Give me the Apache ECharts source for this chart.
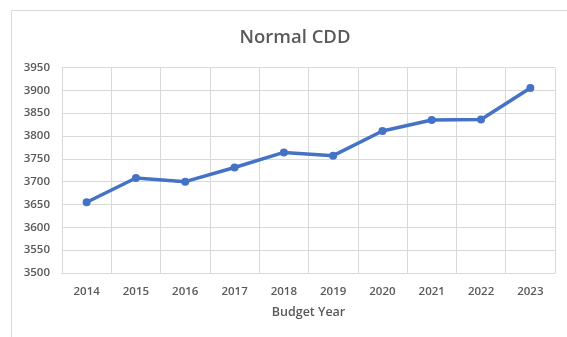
<!DOCTYPE html>
<html><head><meta charset="utf-8">
<script src="https://cdn.jsdelivr.net/npm/echarts@6/dist/echarts.min.js"></script>
<style>html,body{margin:0;padding:0;background:#fff}#c{width:567px;height:337px}</style>
</head><body><div id="c"></div>
<script>
const categories = ['2014','2015','2016','2017','2018','2019','2020','2021','2022','2023'];
const normalCDD = [3655, 3708, 3700, 3731, 3764, 3757, 3811, 3835, 3836, 3905];
const yTicks = [3500, 3550, 3600, 3650, 3700, 3750, 3800, 3850, 3900, 3950];
const chartTitle = 'Normal CDD';
const xAxisTitle = 'Budget Year';

const chart = echarts.init(document.getElementById('c'), null, {renderer:'canvas'});
const font = '"Open Sans", "Liberation Sans", sans-serif';
chart.setOption({
  animation:false,
  graphic:[{type:'rect', shape:{x:11.5,y:10.5,width:600,height:400}, style:{fill:'none', stroke:'#d9d9d9', lineWidth:1}, z:-1}],
  title:{text:chartTitle, left:290, top:23, textAlign:'center',
    textStyle:{fontFamily:font, fontSize:18.5, fontWeight:600, color:'#595959'}},
  grid:{left:62, right:12, top:67.5, bottom:64, containLabel:false},
  xAxis:{type:'category', data:categories, boundaryGap:true,
    name:xAxisTitle, nameLocation:'middle', nameGap:33,
    nameTextStyle:{fontFamily:font, fontSize:12.5, fontWeight:600, color:'#595959'},
    axisLine:{show:true, lineStyle:{color:'#d9d9d9'}}, axisTick:{show:false},
    axisLabel:{fontFamily:font, fontSize:11.5, fontWeight:600, color:'#595959', margin:13},
    splitLine:{show:true, lineStyle:{color:'#d9d9d9'}}},
  yAxis:{type:'value', min:yTicks[0], max:yTicks[yTicks.length-1], interval:50,
    axisLine:{show:false}, axisTick:{show:false},
    axisLabel:{fontFamily:font, fontSize:11.5, fontWeight:600, color:'#595959', margin:12,
      formatter:v=>String(v)},
    splitLine:{show:true, lineStyle:{color:'#d9d9d9'}}},
  series:[{type:'line', data:normalCDD, symbol:'circle', symbolSize:8,
    lineStyle:{color:'#4472c4', width:3.5}, itemStyle:{color:'#4472c4'}}]
});
</script></body></html>
